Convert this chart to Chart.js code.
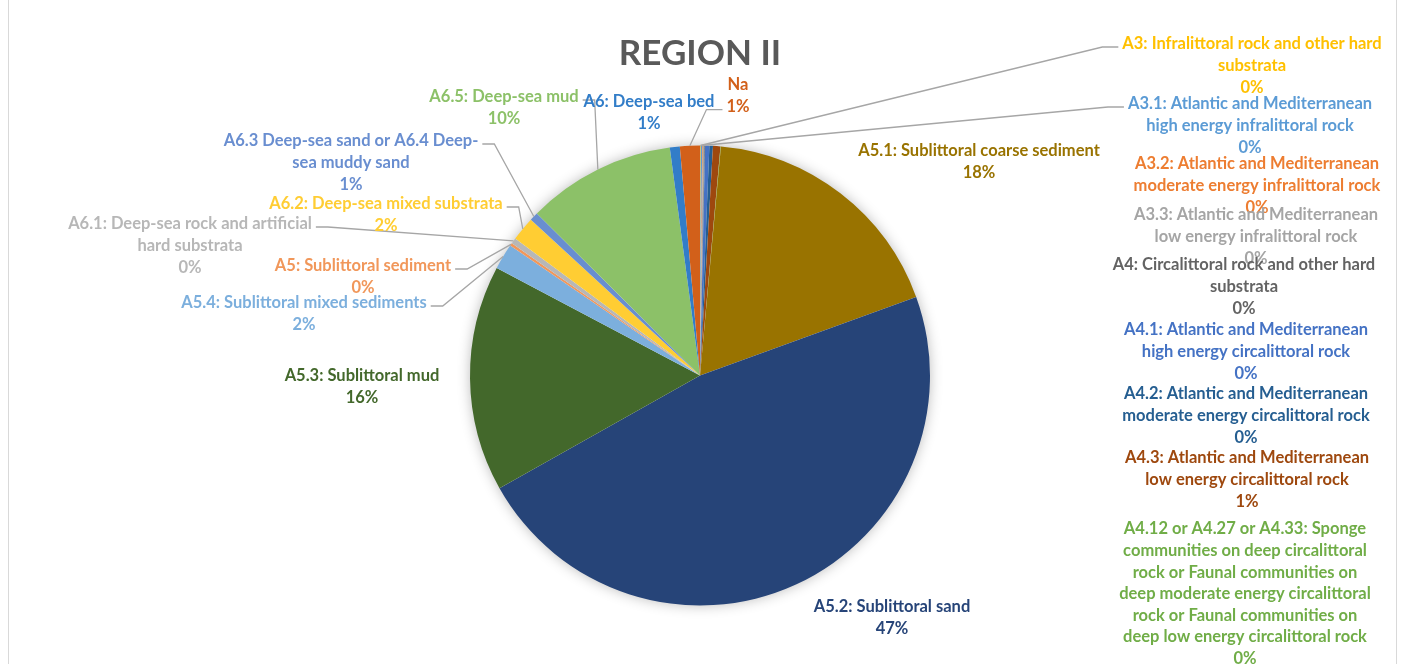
<!DOCTYPE html>
<html>
<head>
<meta charset="utf-8">
<title>Region II</title>
<script src="https://cdn.jsdelivr.net/npm/chart.js@4.4.0/dist/chart.umd.min.js"></script>
<style>
  html, body { margin: 0; padding: 0; background: #fff; }
</style>
</head>
<body>
<canvas id="regionChart" width="1402" height="664"></canvas>
<script>
// habitat classes, in slice order (clockwise from 12 o'clock)
const categories = [
  'A3: Infralittoral rock and other hard\nsubstrata',
  'A3.1: Atlantic and Mediterranean\nhigh energy infralittoral rock',
  'A3.2: Atlantic and Mediterranean\nmoderate energy infralittoral rock',
  'A3.3: Atlantic and Mediterranean\nlow energy infralittoral rock',
  'A4: Circalittoral rock and other hard\nsubstrata',
  'A4.1: Atlantic and Mediterranean\nhigh energy circalittoral rock',
  'A4.2: Atlantic and Mediterranean\nmoderate energy circalittoral rock',
  'A4.3: Atlantic and Mediterranean\nlow energy circalittoral rock',
  'A4.12 or A4.27 or A4.33: Sponge\ncommunities on deep circalittoral\nrock or Faunal communities on\ndeep moderate energy circalittoral\nrock or Faunal communities on\ndeep low energy circalittoral rock',
  'A5.1: Sublittoral coarse sediment',
  'A5.2: Sublittoral sand',
  'A5.3: Sublittoral mud',
  'A5.4: Sublittoral mixed sediments',
  'A5: Sublittoral sediment',
  'A6.1: Deep-sea rock and artificial\nhard substrata',
  'A6.2: Deep-sea mixed substrata',
  'A6.3 Deep-sea sand or A6.4 Deep-\nsea muddy sand',
  'A6.5: Deep-sea mud',
  'A6: Deep-sea bed',
  'Na'
];

// share of the region's area (%)
const shares = [0.05, 0.1, 0.05, 0.1, 0.05, 0.3, 0.25, 0.52, 0.03,
  18.0, 47.4, 15.9, 1.8, 0.2, 0.4, 1.7, 0.6, 10.45, 0.7, 1.4];

const sliceColors = [
  '#FFC000', '#5B9BD5', '#ED7D31', '#A5A5A5', '#636363', '#4472C4',
  '#255E91', '#9E480E', '#70AD47', '#997300', '#264478', '#43682B',
  '#7CAFDD', '#F1975A', '#B7B7B7', '#FFCD33', '#698ED0', '#8CC168',
  '#327DC8', '#D2601A'
];

// where each label block sits: centre x, first line y; lead = leader line side/line
const labelLayout = [
  { x: 1252, y: 44, lead: 'left', line: 0 },
  { x: 1250, y: 104, lead: 'left', line: 0 },
  { x: 1257, y: 164 },
  { x: 1256, y: 215 },
  { x: 1244, y: 265 },
  { x: 1246, y: 330 },
  { x: 1246, y: 394 },
  { x: 1247, y: 458 },
  { x: 1245, y: 529 },
  { x: 979, y: 151 },
  { x: 892, y: 607 },
  { x: 362, y: 376 },
  { x: 304, y: 303, lead: 'right', line: 0 },
  { x: 363, y: 266, lead: 'right', line: 0 },
  { x: 190, y: 224, lead: 'right', line: 0 },
  { x: 386, y: 204, lead: 'right', line: 0 },
  { x: 351, y: 141, lead: 'right', line: 0 },
  { x: 504, y: 97, lead: 'right', line: 0 },
  { x: 649, y: 102 },
  { x: 738, y: 85, lead: 'left', line: 1 }
];

const LABEL_FONT = 'bold 16.5px Lato';
const LINE_H = 21.6;

const total = shares.reduce((a, b) => a + b, 0);

// thin frame around the chart
const frame = {
  id: 'frame',
  beforeDraw(chart) {
    const ctx = chart.ctx;
    ctx.save();
    ctx.strokeStyle = '#D9D9D9';
    ctx.lineWidth = 1;
    ctx.strokeRect(8.5, -2, 1388, 668);
    ctx.restore();
  }
};

// soft shadow behind the pie
const pieShadow = {
  id: 'pieShadow',
  beforeDatasetsDraw(chart) {
    const arc = chart.getDatasetMeta(0).data[0];
    if (!arc) return;
    const ctx = chart.ctx;
    ctx.save();
    ctx.shadowColor = 'rgba(0,0,0,0.3)';
    ctx.shadowBlur = 14;
    ctx.fillStyle = '#fff';
    ctx.beginPath();
    ctx.arc(arc.x, arc.y, arc.outerRadius - 1, 0, Math.PI * 2);
    ctx.fill();
    ctx.restore();
  }
};

// data labels outside the pie, with leader lines
const outsideLabels = {
  id: 'outsideLabels',
  afterDatasetsDraw(chart) {
    const ctx = chart.ctx;
    const meta = chart.getDatasetMeta(0);
    ctx.save();
    ctx.font = LABEL_FONT;
    ctx.textAlign = 'center';
    ctx.textBaseline = 'middle';
    meta.data.forEach((arc, i) => {
      const pos = labelLayout[i];
      const lines = categories[i].split('\n');
      lines.push(Math.round(shares[i] / total * 100) + '%');

      if (pos.lead) {
        const p = arc.getProps(['x', 'y', 'startAngle', 'endAngle', 'outerRadius'], true);
        const mid = (p.startAngle + p.endAngle) / 2;
        const px = p.x + Math.cos(mid) * p.outerRadius;
        const py = p.y + Math.sin(mid) * p.outerRadius;
        const w = ctx.measureText(lines[pos.line]).width;
        const ly = pos.y + pos.line * LINE_H + 3;
        let ax, bx;
        if (pos.lead === 'left') {
          ax = pos.x - w / 2 - 4;
          bx = ax - 16;
        } else {
          ax = pos.x + w / 2 + 4;
          bx = ax + 12;
        }
        ctx.strokeStyle = '#A6A6A6';
        ctx.lineWidth = 1.3;
        ctx.beginPath();
        ctx.moveTo(ax, ly);
        ctx.lineTo(bx, ly);
        ctx.lineTo(px, py);
        ctx.stroke();
      }

      ctx.fillStyle = sliceColors[i];
      lines.forEach((t, k) => ctx.fillText(t, pos.x, pos.y + k * LINE_H));
    });
    ctx.restore();
  }
};

const ctx = document.getElementById('regionChart').getContext('2d');

const regionChart = new Chart(ctx, {
  type: 'pie',
  data: {
    labels: categories,
    datasets: [{
      data: shares,
      backgroundColor: sliceColors,
      borderWidth: 0,
      hoverOffset: 0
    }]
  },
  options: {
    responsive: false,
    animation: false,
    layout: { padding: { left: 470, right: 472, top: 0, bottom: 58 } },
    plugins: {
      legend: { display: false },
      tooltip: { enabled: false },
      title: {
        display: true,
        text: 'REGION II',
        color: '#595959',
        font: { family: 'Lato', size: 35, weight: 'bold', lineHeight: 1.2 },
        padding: { top: 33, bottom: 70 }
      }
    }
  },
  plugins: [frame, pieShadow, outsideLabels]
});
</script>
</body>
</html>
